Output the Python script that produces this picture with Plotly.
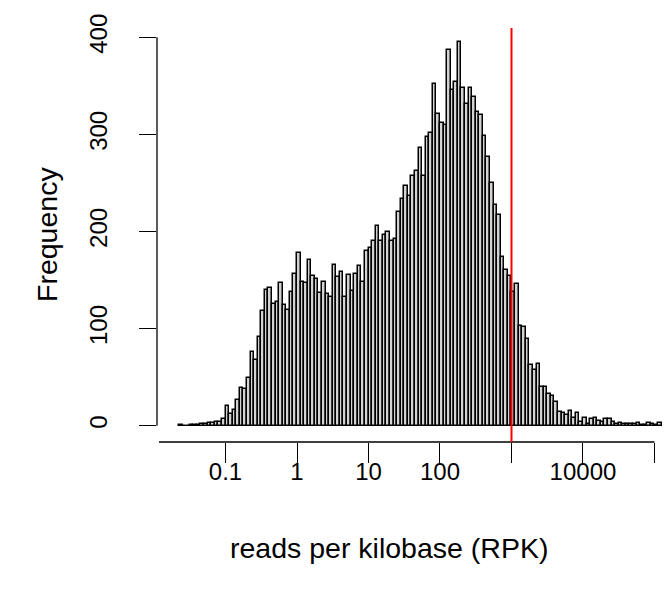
import numpy as np
import plotly.graph_objects as go

# Histogram of log10(reads per kilobase): regular breaks, counts per bin
break_start = -1.65
bin_width = 0.05
counts = [
    1, 0, 0, 1, 1, 1, 2, 2, 3, 3, 4, 4, 7,
    20, 12, 16, 26, 39, 38, 49, 76, 68, 91, 118, 140, 142, 125, 127, 147,
    124, 119, 138, 156, 178,
    148, 147, 171, 154, 151, 137, 148, 136, 133, 165, 153, 158, 133, 155,
    139, 156, 164, 148, 180, 183, 190, 206,
    190, 196, 200, 190, 192, 220, 233, 247, 237, 257, 262, 286, 257, 297,
    301, 352, 321, 312, 310,
    387, 346, 354, 395, 348, 331, 348, 339, 323, 320, 298, 277, 250, 227,
    217, 174, 160, 154,
    138, 146, 103, 102, 89, 62, 57, 64, 40, 40, 33,
    31, 24, 14, 13, 11, 15, 8, 13, 4, 8, 2, 7, 8, 5, 4,
    7, 7, 4, 2, 3, 2, 2, 2, 2, 3, 1, 1, 3, 2, 1, 3,
]
threshold_rpk = 1000

x_tick_vals = [-1, 0, 1, 2, 3, 4, 5]
x_tick_text = ["0.1", "1", "10", "100", "", "10000", ""]
y_tick_vals = [0, 100, 200, 300, 400]

n = len(counts)
centers = break_start + bin_width * (np.arange(n) + 0.5)

FONT = "Liberation Sans, Arial, Helvetica, sans-serif"
TICK_SIZE = 24
LAB_SIZE = 28.5

fig = go.Figure()
fig.add_trace(go.Bar(
    x=centers,
    y=counts,
    width=bin_width,
    marker=dict(color="#d3d3d3", line=dict(color="black", width=1.5)),
    hoverinfo="skip",
))

# plot region in pixels
L, R, T, B = 157, 2, 28, 153
W, H = 664, 595
pw, ph = W - L - R, H - T - B


def px_x(px):
    return (px - L) / pw


def px_y(py):
    return (H - B - py) / ph


fig.update_layout(
    width=W, height=H,
    margin=dict(l=L, r=R, t=T, b=B),
    paper_bgcolor="white", plot_bgcolor="white",
    showlegend=False, bargap=0,
    font=dict(family=FONT, color="black", size=TICK_SIZE),
    xaxis=dict(
        range=[-1.958, 5.105], tickmode="array",
        tickvals=x_tick_vals, ticktext=x_tick_text,
        ticks="outside", ticklen=20, tickwidth=1.3, tickcolor="black",
        showline=False, showgrid=False, zeroline=False,
        tickfont=dict(size=TICK_SIZE, family=FONT),
        ticklabelstandoff=-12,
    ),
    yaxis=dict(
        range=[-16.8, 409.6], tickmode="array",
        tickvals=y_tick_vals, ticktext=[str(v) for v in y_tick_vals],
        ticks="outside", ticklen=17, tickwidth=1.3, tickcolor="black",
        tickangle=-90,
        showline=False, showgrid=False, zeroline=False,
        tickfont=dict(size=TICK_SIZE, family=FONT),
        ticklabelstandoff=22,
    ),
    shapes=[
        # y axis line
        dict(type="line", xref="paper", yref="y", x0=0, x1=0, y0=0, y1=400,
             line=dict(color="black", width=1.3)),
        # x axis line
        dict(type="line", xref="x", yref="paper", x0=-1.93, x1=5, y0=0, y1=0,
             line=dict(color="black", width=1.3)),
        # threshold at 1000 RPK
        dict(type="line", xref="x", yref="paper",
             x0=np.log10(threshold_rpk), x1=np.log10(threshold_rpk),
             y0=0, y1=1, line=dict(color="#ff0000", width=2)),
    ],
    annotations=[
        dict(text="reads per kilobase (RPK)", xref="paper", yref="paper",
             x=px_x(389), y=px_y(548), showarrow=False,
             xanchor="center", yanchor="middle", font=dict(size=LAB_SIZE)),
        dict(text="Frequency", xref="paper", yref="paper",
             x=px_x(47), y=px_y(235), showarrow=False, textangle=-90,
             xanchor="center", yanchor="middle", font=dict(size=LAB_SIZE)),
    ],
)

fig.write_html("out.html")
